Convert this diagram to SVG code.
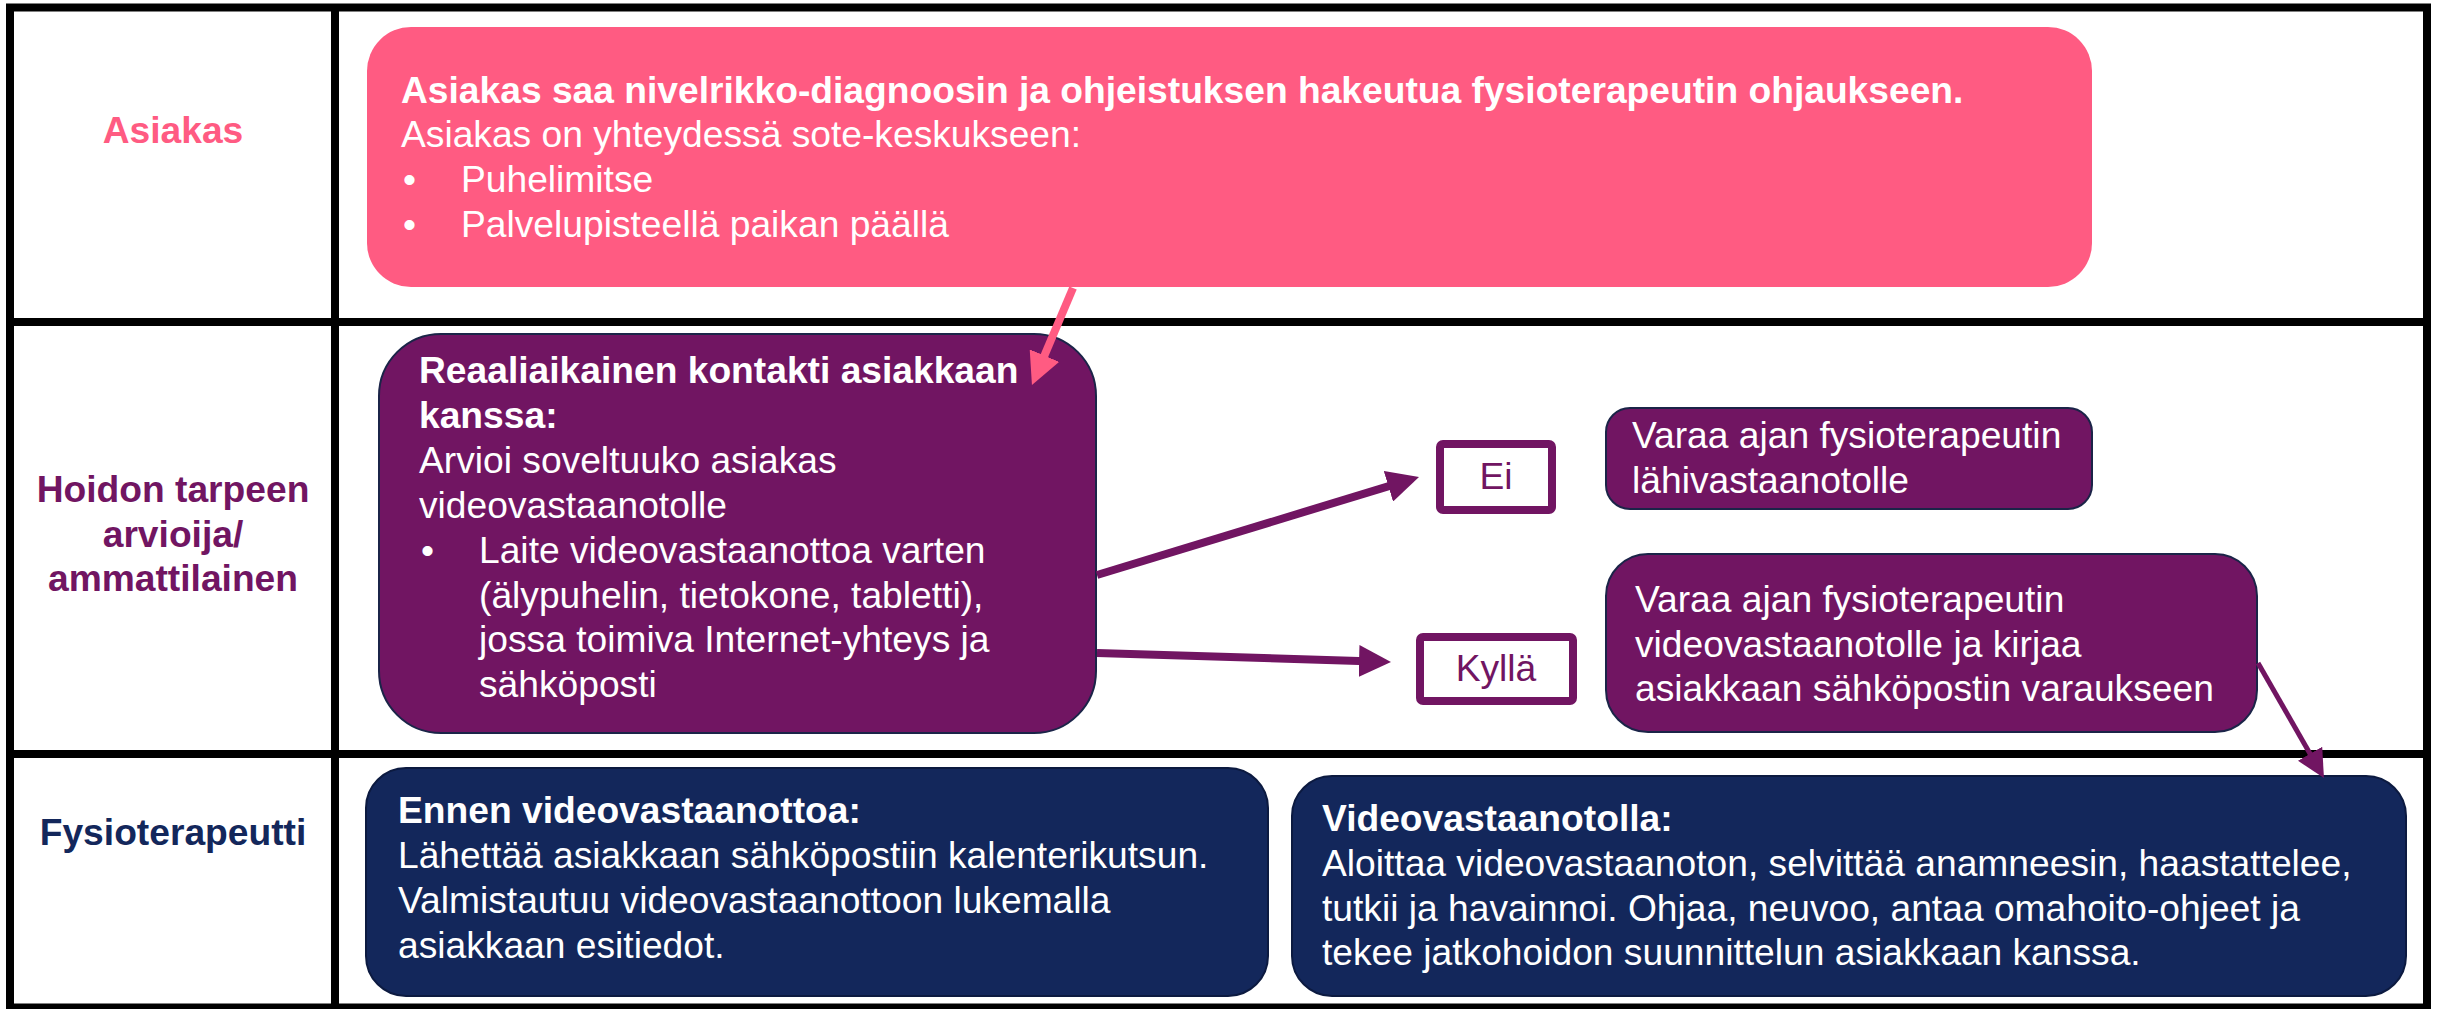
<svg xmlns="http://www.w3.org/2000/svg" width="2438" height="1009" viewBox="0 0 2438 1009">
<defs>
<style>
text{font-family:"Liberation Sans",Arial,sans-serif;font-size:37.2px}
.b{font-weight:bold}
.w{fill:#ffffff}
.grid{stroke:#000;stroke-width:8;fill:none}
.pink{fill:#FF5B82}
.purple{fill:#711562;stroke:#1B2448;stroke-width:2}
.navy{fill:#13275B;stroke:#0C1A40;stroke-width:2}
.choice{fill:#fff;stroke:#711562;stroke-width:8}
.ptxt{fill:#711562}
</style>
<marker id="ahPink" markerUnits="userSpaceOnUse" markerWidth="32" markerHeight="32" viewBox="0 0 32 32" refX="16" refY="16" orient="auto"><path d="M0,0 L32,16 L0,32 z" fill="#FF5B82"/></marker>
<marker id="ahPurple" markerUnits="userSpaceOnUse" markerWidth="32" markerHeight="32" viewBox="0 0 32 32" refX="16" refY="16" orient="auto"><path d="M0,0 L32,16 L0,32 z" fill="#711562"/></marker>
<marker id="ahThin" markerUnits="userSpaceOnUse" markerWidth="28" markerHeight="28" viewBox="0 0 28 28" refX="14" refY="14" orient="auto"><path d="M0,0 L28,14 L0,28 z" fill="#711562"/></marker>
</defs>
<rect width="2438" height="1009" fill="#fff"/>
<g id="grid" class="grid">
<rect x="10" y="7.5" width="2417" height="1000"/>
<line x1="335" y1="7" x2="335" y2="1009"/>
<line x1="6" y1="322" x2="2431" y2="322"/>
<line x1="6" y1="754" x2="2431" y2="754"/>
</g>
<g id="lane-asiakas"><text class="b" x="173" y="143" text-anchor="middle" fill="#FF5B82">Asiakas</text></g>
<g id="lane-hoidon"><text class="b ptxt" text-anchor="middle"><tspan x="173" y="502">Hoidon tarpeen</tspan><tspan x="173" y="547">arvioija/</tspan><tspan x="173" y="591">ammattilainen</tspan></text></g>
<g id="lane-fysio"><text class="b" x="173" y="845" text-anchor="middle" fill="#13275B">Fysioterapeutti</text></g>
<g id="node-asiakas">
<rect class="pink" x="367" y="27" width="1725" height="260" rx="44"/>
<text class="w b" x="401" y="103">Asiakas saa nivelrikko-diagnoosin ja ohjeistuksen hakeutua fysioterapeutin ohjaukseen.</text>
<text class="w" x="401" y="147">Asiakas on yhteydessä sote-keskukseen:</text>
<text class="w" x="403" y="192">•</text><text class="w" x="461" y="192">Puhelimitse</text>
<text class="w" x="403" y="237">•</text><text class="w" x="461" y="237">Palvelupisteellä paikan päällä</text>
</g>
<g id="node-kontakti">
<rect class="purple" x="379" y="334" width="717" height="399" rx="62"/>
<text class="w b" x="419" y="383">Reaaliaikainen kontakti asiakkaan</text>
<text class="w b" x="419" y="428">kanssa:</text>
<text class="w" x="419" y="473">Arvioi soveltuuko asiakas</text>
<text class="w" x="419" y="518">videovastaanotolle</text>
<text class="w" x="421" y="563">•</text>
<text class="w" x="479" y="563">Laite videovastaanottoa varten</text>
<text class="w" x="479" y="608">(älypuhelin, tietokone, tabletti),</text>
<text class="w" x="479" y="652">jossa toimiva Internet-yhteys ja</text>
<text class="w" x="479" y="697">sähköposti</text>
</g>
<g id="node-ei">
<rect class="choice" x="1440" y="444" width="112" height="66" rx="3"/>
<text class="ptxt" x="1496" y="489" text-anchor="middle">Ei</text>
</g>
<g id="node-kylla">
<rect class="choice" x="1420" y="637" width="153" height="64" rx="3"/>
<text class="ptxt" x="1496" y="681" text-anchor="middle">Kyllä</text>
</g>
<g id="node-lahi">
<rect class="purple" x="1606" y="408" width="486" height="101" rx="24"/>
<text class="w" x="1632" y="448">Varaa ajan fysioterapeutin</text>
<text class="w" x="1632" y="493">lähivastaanotolle</text>
</g>
<g id="node-video-varaus">
<rect class="purple" x="1606" y="554" width="651" height="178" rx="42"/>
<text class="w" x="1635" y="612">Varaa ajan fysioterapeutin</text>
<text class="w" x="1635" y="657">videovastaanotolle ja kirjaa</text>
<text class="w" x="1635" y="701">asiakkaan sähköpostin varaukseen</text>
</g>
<g id="node-ennen">
<rect class="navy" x="366" y="768" width="902" height="228" rx="40"/>
<text class="w b" x="398" y="823">Ennen videovastaanottoa:</text>
<text class="w" x="398" y="868">Lähettää asiakkaan sähköpostiin kalenterikutsun.</text>
<text class="w" x="398" y="913">Valmistautuu videovastaanottoon lukemalla</text>
<text class="w" x="398" y="958">asiakkaan esitiedot.</text>
</g>
<g id="node-videovastaanotolla">
<rect class="navy" x="1292" y="776" width="1114" height="220" rx="40"/>
<text class="w b" x="1322" y="831">Videovastaanotolla:</text>
<text class="w" x="1322" y="876">Aloittaa videovastaanoton, selvittää anamneesin, haastattelee,</text>
<text class="w" x="1322" y="921">tutkii ja havainnoi. Ohjaa, neuvoo, antaa omahoito-ohjeet ja</text>
<text class="w" x="1322" y="965">tekee jatkohoidon suunnittelun asiakkaan kanssa.</text>
</g>
<g id="connectors" fill="none">
<line x1="1073" y1="288" x2="1038.2" y2="370.3" stroke="#FF5B82" stroke-width="8" marker-end="url(#ahPink)"/>
<line x1="1097" y1="575" x2="1403.7" y2="481.6" stroke="#711562" stroke-width="8" marker-end="url(#ahPurple)"/>
<line x1="1097" y1="653" x2="1375" y2="661.5" stroke="#711562" stroke-width="8" marker-end="url(#ahPurple)"/>
<line x1="2258" y1="663" x2="2317" y2="765.9" stroke="#711562" stroke-width="5" marker-end="url(#ahThin)"/>
</g>
</svg>
